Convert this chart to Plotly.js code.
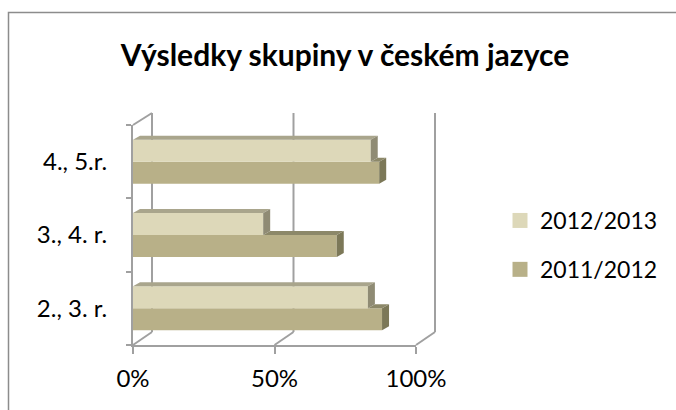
<!DOCTYPE html>
<html>
<head>
<meta charset="utf-8">
<script src="https://cdn.plot.ly/plotly-3.0.1.min.js"></script>
<style>html,body{margin:0;padding:0;background:#fff;}#chart{width:676px;height:410px;}</style>
</head>
<body>
<div id="chart"></div>
<script>
// ---- data ----
const categories = ["2., 3. r.", "3., 4. r.", "4., 5.r."];
const series2011 = [0.88, 0.72, 0.87];   // 2011/2012
const series2012 = [0.83, 0.46, 0.84];   // 2012/2013
const seriesNames = ["2011/2012", "2012/2013"];
const tickVals = [0, 0.5, 1];
const tickText = ["0%", "50%", "100%"];

// ---- layout constants ----
const W = 676, H = 410;
const L = 133, R = 416, T = 125, B = 345;
const pw = R - L, ph = B - T;
const FONT = "Lato, 'Noto Sans', sans-serif";
const cLight = "#DDD8B9", cDark = "#B8B088";
const cLightTop = "#A9A58C", cLightSide = "#8F8B74";
const cDarkTop = "#8C8869", cDarkSide = "#7C7858";
const wallCol = "#A0A0A0";

// pixel helpers (paper coords of plot area)
const px = x => (x - L) / pw;
const py = y => (B - y) / ph;

// bar depth in data units
const ddx = 7 / pw * 1.0;          // x range 0..1
const ddy = 4 / ph * 3.0;          // y range -0.5..2.5
const half = 0.3;                  // bar thickness in category units

const shapes = [];
function poly(pts, color) {
  let d = "M" + pts.map(p => p[0] + "," + p[1]).join(" L") + " Z";
  shapes.push({type: "path", xref: "x", yref: "y", path: d, fillcolor: color, line: {width: 0}, layer: "above"});
}
categories.forEach((c, i) => {
  const vd = series2011[i], vl = series2012[i];
  poly([[vd, i - half], [vd, i], [vd + ddx, i + ddy], [vd + ddx, i - half + ddy]], cDarkSide);
  if (vd > vl) poly([[vl, i], [vd, i], [vd + ddx, i + ddy], [vl + ddx, i + ddy]], cDarkTop);
  poly([[0, i + half], [vl, i + half], [vl + ddx, i + half + ddy], [ddx, i + half + ddy]], cLightTop);
  poly([[vl, i], [vl, i + half], [vl + ddx, i + half + ddy], [vl + ddx, i + ddy]], cLightSide);
});

// walls / gridlines (3D frame)
function line(x0, y0, x1, y1, w) {
  shapes.push({type: "line", xref: "paper", yref: "paper", x0: px(x0), y0: py(y0), x1: px(x1), y1: py(y1),
    line: {color: wallCol, width: w || 2}, layer: "below"});
}
const DX = 19, DY = 13;
[0, 0.5, 1].forEach(v => {
  const xf = L + v * pw;
  line(xf + DX, T - 12, xf + DX, B - DY);
  line(xf, B, xf + DX, B - DY);
});
line(L, T, L + DX, T - 12);
// outer frame
shapes.push({type: "rect", xref: "paper", yref: "paper", x0: px(8.5), y0: py(12.5), x1: px(690), y1: py(430),
  line: {color: "#8C8C8C", width: 1.5}, fillcolor: "rgba(0,0,0,0)", layer: "below"});

const traces = [
  {type: "bar", orientation: "h", name: seriesNames[0], y: categories, x: series2011,
   marker: {color: cDark, line: {width: 0}}, showlegend: false, hoverinfo: "x+y"},
  {type: "bar", orientation: "h", name: seriesNames[1], y: categories, x: series2012,
   marker: {color: cLight, line: {width: 0}}, showlegend: false, hoverinfo: "x+y"},
  // legend entries (square keys), 2012/2013 listed first
  {type: "scatter", mode: "markers", name: seriesNames[1], x: [null], y: [null], legendgroup: "b",
   marker: {symbol: "square", size: 15, color: cLight}},
  {type: "scatter", mode: "markers", name: seriesNames[0], x: [null], y: [null], legendgroup: "a",
   marker: {symbol: "square", size: 15, color: cDark}}
];

const layout = {
  width: W, height: H,
  margin: {l: L, r: W - R, t: T, b: H - B, pad: 0},
  paper_bgcolor: "#fff", plot_bgcolor: "rgba(0,0,0,0)",
  font: {family: FONT, size: 22, color: "#000"},
  title: {text: "<b>Výsledky skupiny v českém jazyce</b>", font: {family: FONT, size: 30, color: "#000"},
    x: 345 / W, xanchor: "center", xref: "container", y: 1 - 55 / H, yanchor: "middle", yref: "container"},
  barmode: "group", bargap: 0.4, bargroupgap: 0,
  xaxis: {range: [0, 1], tickvals: tickVals, ticktext: tickText, showgrid: false, zeroline: false,
    showline: true, linecolor: wallCol, linewidth: 2, ticks: "outside", ticklen: 7, tickwidth: 2, tickcolor: wallCol,
    ticklabelstandoff: 4, tickfont: {family: FONT, size: 24}, fixedrange: true},
  yaxis: {type: "category", range: [-0.5, 2.5], showgrid: false, zeroline: false, showline: true,
    linecolor: wallCol, linewidth: 2, ticks: "outside", ticklen: 5, tickwidth: 2, tickcolor: wallCol,
    tickson: "boundaries", ticklabelstandoff: 19, tickfont: {family: FONT, size: 24}, fixedrange: true},
  legend: {x: 500 / W, xref: "container", xanchor: "left", y: 1 - 199 / H, yref: "container", yanchor: "top",
    traceorder: "grouped", tracegroupgap: 16, font: {family: FONT, size: 23}, bgcolor: "rgba(0,0,0,0)"},
  shapes: shapes,
  showlegend: true
};
Plotly.newPlot("chart", traces, layout, {displayModeBar: false, staticPlot: true});
</script>
</body>
</html>
